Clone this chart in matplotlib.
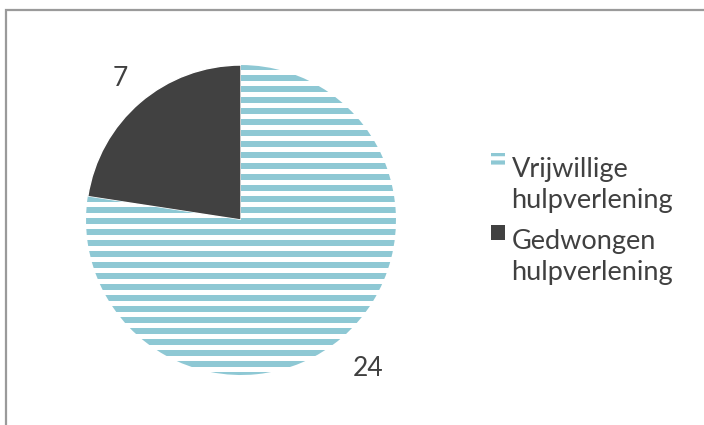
import matplotlib.pyplot as plt
import numpy as np
from matplotlib.patches import Patch, Rectangle

labels = ['Vrijwillige\nhulpverlening', 'Gedwongen\nhulpverlening']
values = [24, 7]
stripe_color = '#8ec8d4'
dark_color = '#414141'
text_color = '#404040'

plt.rcParams['font.family'] = ['Lato', 'DejaVu Sans']
plt.rcParams['hatch.color'] = stripe_color
plt.rcParams['hatch.linewidth'] = 3

fig = plt.figure(figsize=(7.04, 4.25), dpi=100)

# chart frame, runs off the right and bottom edges
fig.patches.append(Rectangle((6 / 704, -0.1), 1.2, 1.1 - 10 / 425,
                             transform=fig.transFigure, fill=False,
                             edgecolor='#9a9a9a', linewidth=1.6))

ax = fig.add_axes([0.0561, 0.0082, 0.5724, 0.9482])

wedges, _ = ax.pie(values, startangle=90, counterclock=False, radius=1,
                   colors=['white', dark_color],
                   wedgeprops=dict(edgecolor='white', linewidth=1))
ax.set_xlim(-1.3, 1.3)
ax.set_ylim(-1.3, 1.3)
ax.set_aspect('equal')
ax.axis('off')

# horizontal stripes inside the first slice
period = 0.071
thick = 0.038
for y in np.arange(-1.02, 1.02, period):
    band = ax.axhspan(y, y + thick, color=stripe_color, lw=0)
    band.set_clip_path(wedges[0])

# value labels just outside each slice
total = sum(values)
angle = 90
for v in values:
    sweep = v / total * 360
    mid = np.deg2rad(angle - sweep / 2)
    angle -= sweep
    r = 1.2 if v < 10 else 1.26
    ax.text(r * np.cos(mid), r * np.sin(mid), str(v), ha='center', va='center',
            fontsize=19, color=text_color)

handles = [Patch(facecolor='white', edgecolor=stripe_color, hatch='--', lw=0),
           Patch(facecolor=dark_color, lw=0)]
leg = fig.legend(handles, labels, loc='center left', bbox_to_anchor=(0.663, 0.48),
                 frameon=False, labelcolor=text_color,
                 handlelength=0.5, handleheight=0.5, handletextpad=0.25,
                 labelspacing=0.6, prop=dict(size=19.5))
for t in leg.get_texts():
    t.set_linespacing(1.3)
for h in leg.legend_handles:
    h.set_y(h.get_y() + 18)

fig.savefig('out.png', dpi=100, facecolor='white')
